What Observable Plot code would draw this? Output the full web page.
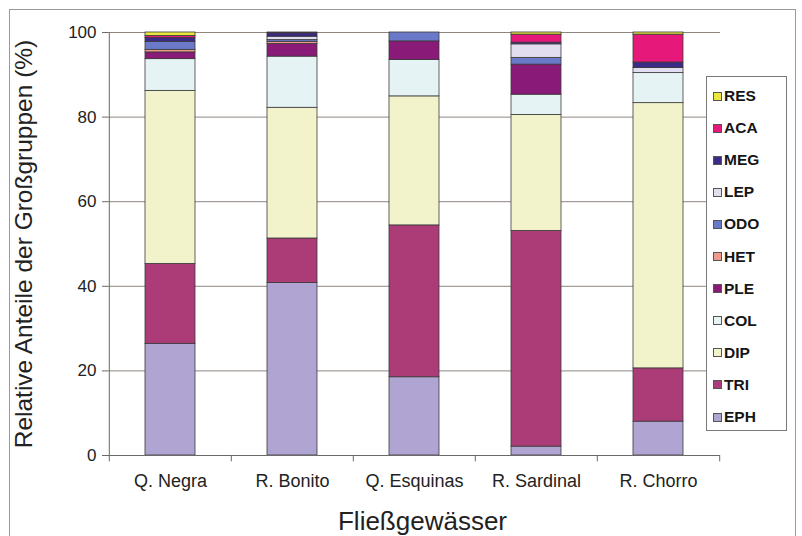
<!DOCTYPE html>
<html><head><meta charset="utf-8">
<script src="https://cdn.jsdelivr.net/npm/d3@7"></script>
<script src="https://cdn.jsdelivr.net/npm/@observablehq/plot@0.6"></script>
<style>
body{margin:0;background:#fff;font-family:"Liberation Sans",Arial,sans-serif;}
#wrap{position:relative;width:802px;height:536px;overflow:hidden;}
#frame{position:absolute;left:9px;top:9px;width:785px;height:540px;border:1px solid #9a9a9a;pointer-events:none;}
#legend{position:absolute;left:706px;top:76px;width:79px;height:353px;border:1px solid #7a7a7a;background:#fff;}
.item{position:absolute;left:6px;height:16px;display:flex;align-items:center;font-weight:bold;font-size:15.5px;color:#151515;}
.sw{width:7px;height:7px;border:1px solid #555;margin-right:2px;}
</style>
</head><body>
<div id="wrap"></div>
<script>
const sites = ["Q. Negra", "R. Bonito", "Q. Esquinas", "R. Sardinal", "R. Chorro"];
const groups = ["EPH","TRI","DIP","COL","PLE","HET","ODO","LEP","MEG","ACA","RES"];
const EPH = [26.4, 40.8, 18.5, 2.1, 8.0];
const TRI = [18.9, 10.5, 35.9, 51.0, 12.6];
const DIP = [40.9, 30.9, 30.5, 27.4, 62.7];
const COL = [7.5, 12.1, 8.6, 4.8, 7.1];
const PLE = [1.6, 3.0, 4.4, 7.1, 0];
const HET = [0.6, 0.5, 0, 0, 0];
const ODO = [1.9, 0.4, 2.1, 1.6, 0];
const LEP = [0, 0.8, 0, 3.2, 1.2];
const MEG = [0.9, 0.8, 0, 0.4, 1.3];
const ACA = [0.5, 0.2, 0, 1.9, 6.6];
const RES = [0.8, 0, 0, 0.5, 0.5];
const colors = ["#b0a4d2","#ab3c78","#f3f3cb","#e6f3f5","#8a1a78","#f09a8a","#6a7ac8","#e2def0","#3c2a88","#e6197a","#e8e840"];
const legendOrder = ["RES","ACA","MEG","LEP","ODO","HET","PLE","COL","DIP","TRI","EPH"];
const yTicks = [0, 20, 40, 60, 80, 100];
const yTitle = "Relative Anteile der Großgruppen (%)";
const xTitle = "Fließgewässer";

const series = {EPH, TRI, DIP, COL, PLE, HET, ODO, LEP, MEG, ACA, RES};
const rows = groups.flatMap(g => sites.map((s, i) => ({site: s, group: g, value: series[g][i]}))).filter(d => d.value > 0);

const W = 802, H = 536, mL = 108, mR = 82, mT = 32, mB = 81;
const step = (W - mL - mR) / sites.length;
const axisColor = "#6a6a6a";

const plot = Plot.plot({
  width: W, height: H, marginLeft: mL, marginRight: mR, marginTop: mT, marginBottom: mB,
  style: {fontFamily: "Liberation Sans, Arial, sans-serif", background: "transparent", color: "#222", overflow: "visible"},
  x: {domain: sites, paddingInner: 0.59, paddingOuter: 0.295, label: null},
  y: {domain: [0, 100], label: null},
  color: {domain: groups, range: colors},
  marks: [
    Plot.ruleY(yTicks.filter(d => d > 0), {stroke: "#8f8680", strokeWidth: 1}),
    Plot.barY(rows, {x: "site", y: "value", fill: "group", order: groups, stroke: "#3a3a3a", strokeWidth: 0.8}),
    Plot.ruleX([sites[0]], {dx: -step / 2, y1: 0, y2: 100, stroke: axisColor}),
    Plot.ruleY([0], {stroke: axisColor}),
    Plot.ruleX(sites, {dx: -step / 2, y1: 0, y2: -1.5, stroke: axisColor}),
    Plot.ruleX([sites[sites.length - 1]], {dx: step / 2, y1: 0, y2: -1.5, stroke: axisColor}),
    Plot.axisY({ticks: yTicks, tickSize: 6, tickPadding: 6, fontSize: 17, label: null, stroke: axisColor}),
    Plot.axisX({tickSize: 0, tickPadding: 19, fontSize: 18, label: null}),
    Plot.text([yTitle], {text: d => d, frameAnchor: "left", textAnchor: "middle", lineAnchor: "middle", dx: -84, rotate: -90, fontSize: 24.5, fill: "#222"}),
    Plot.text([xTitle], {text: d => d, frameAnchor: "bottom", textAnchor: "middle", lineAnchor: "middle", dx: 8, dy: 66, fontSize: 26, fill: "#222"})
  ]
});

const wrap = document.getElementById("wrap");
wrap.appendChild(plot);

const frame = document.createElement("div"); frame.id = "frame"; wrap.appendChild(frame);
const legend = document.createElement("div"); legend.id = "legend"; wrap.appendChild(legend);
legendOrder.forEach((g, i) => {
  const it = document.createElement("div");
  it.className = "item";
  it.style.top = (11 + i * 32.1) + "px";
  const sw = document.createElement("span");
  sw.className = "sw";
  sw.style.background = colors[groups.indexOf(g)];
  it.appendChild(sw);
  it.appendChild(document.createTextNode(g));
  legend.appendChild(it);
});
</script>
</body></html>
